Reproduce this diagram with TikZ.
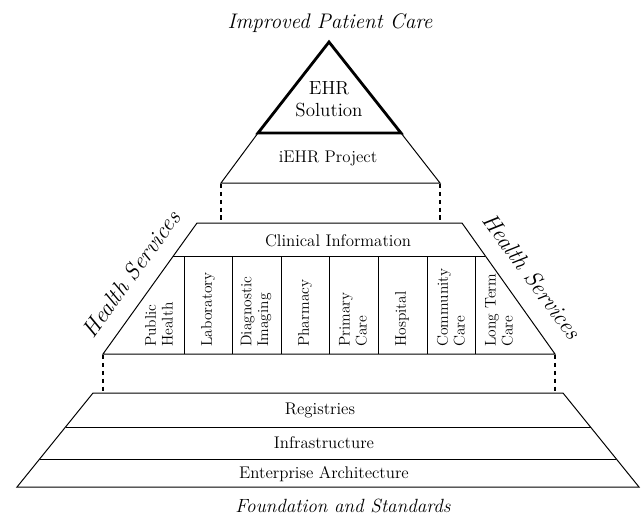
\documentclass[tikz,border=0pt]{standalone}
\usepackage{tikz}
\usetikzlibrary{calc}
\tikzset{
	heading/.style={font=\fontsize{15}{17}\selectfont\itshape, inner sep=0pt},
	layer/.style={font=\fontsize{12}{14}\selectfont, inner sep=0pt},
	service/.style={font=\fontsize{11}{12}\selectfont, rotate=90, anchor=west, align=left, inner sep=0pt},
	dashline/.style={line width=1.5pt, dash pattern=on 3pt off 2.6pt},
	edge/.style={line width=0.7pt}
}
\def\service(#1)#2#3{\node[service] (#2) at (#1, 34.7) {#3};}

\begin{document}
\begin{tikzpicture}[x=2.5mm, y=-2.5mm]
				\useasboundingbox (0,0) rectangle (64.1,51.8);
				
				% EHR solution and iEHR project
				\draw[line width=2pt, line join=miter] (32.9,4.2) -- (40.1,13.3) -- (25.8,13.3) -- cycle;
				\draw[edge] (25.8,13.3) -- (22.1,18.3) -- (44.0,18.3) -- (40.1,13.3);
				\draw[dashline] (22.1,18.4) -- (22.1,22.3);
				\draw[dashline] (44.0,18.4) -- (44.0,22.3);
				
				% clinical information and health services
				\draw[edge] (19.7,22.3) -- (46.2,22.3) -- (55.5,35.4) -- (10.3,35.4) -- cycle;
				\draw[edge] (17.33,25.6) -- (48.54,25.6);
				\foreach \x in {18.4, 23.2, 28.1, 32.9, 37.8, 42.7, 47.5}
					\draw[edge] (\x,25.6) -- (\x,35.4);
				\draw[dashline] (10.3,35.5) -- (10.3,39.3);
				\draw[dashline] (55.5,35.5) -- (55.5,39.3);
				
				% foundation layers
				\draw[edge] (9.3,39.3) -- (56.3,39.3) -- (63.9,48.7) -- (1.7,48.7) -- cycle;
				\draw[edge] (6.55,42.7) -- (59.05,42.7);
				\draw[edge] (3.96,45.9) -- (61.64,45.9);
				
				\node[heading] (improved) at (33.0,2.3) {Improved Patient Care};
				\node[layer, font=\fontsize{13.5}{16}\selectfont, align=center] (ehr) at (32.9,9.9) {EHR\\Solution};
				\node[layer] (iehr) at (32.8,15.8) {iEHR Project};
				\node[layer] (clinical) at (33.8,24.1) {Clinical Information};
				
				\service(15.9){public}{Public\\Health}
				\service(20.8){lab}{Laboratory}
				\service(25.6){imaging}{Diagnostic\\Imaging}
				\service(30.5){pharmacy}{Pharmacy}
				\service(35.3){primary}{Primary\\Care}
				\service(40.2){hospital}{Hospital}
				\service(45.1){community}{Community\\Care}
				\service(49.9){longterm}{Long Term\\Care}
				
				\node[heading, font=\fontsize{16.5}{18}\selectfont\itshape, rotate=54] (healthl) at (13.1,27.4) {Health Services};
				\node[heading, font=\fontsize{16.5}{18}\selectfont\itshape, rotate=-54] (healthr) at (53.2,27.6) {Health Services};
				
				\node[layer] (registries) at (32.0,41.0) {Registries};
				\node[layer] (infra) at (32.4,44.3) {Infrastructure};
				\node[layer] (enterprise) at (32.4,47.4) {Enterprise Architecture};
				\node[heading, font=\fontsize{13.6}{16}\selectfont\itshape] (foundation) at (34.3,50.6) {Foundation and Standards};
			\end{tikzpicture}
\end{document}
